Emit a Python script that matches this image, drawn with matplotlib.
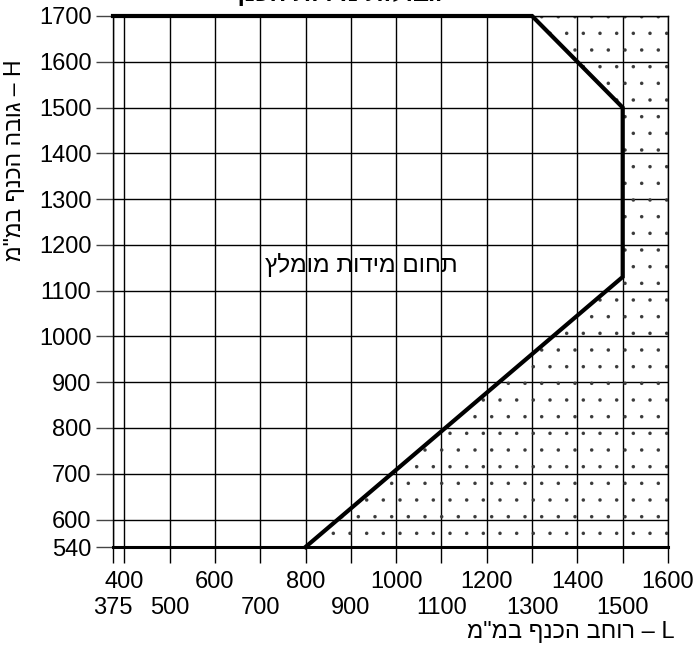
import matplotlib
matplotlib.use('Agg')
import matplotlib.pyplot as plt
from matplotlib.patches import Polygon

plt.rcParams['font.family'] = ['Liberation Sans', 'DejaVu Sans']
plt.rcParams['hatch.linewidth'] = 0.1

# ---- data ----
x_grid = [375, 400, 500, 600, 700, 800, 900, 1000, 1100, 1200, 1300, 1400, 1500, 1600]
x_labels_top = [400, 600, 800, 1000, 1200, 1400, 1600]
x_labels_bottom = [375, 500, 700, 900, 1100, 1300, 1500]
y_ticks = [540, 600, 700, 800, 900, 1000, 1100, 1200, 1300, 1400, 1500, 1600, 1700]
x_min, x_max = 375, 1600
y_min, y_max = 540, 1700

# recommended zone outline (L, H)
zone_L = [375, 1300, 1500, 1500, 800, 375]
zone_H = [1700, 1700, 1500, 1130, 540, 540]

x_title = 'L – רוחב הכנף במ"מ'
y_title = 'H – גובה הכנף במ"מ'
zone_text = 'תחום מידות מומלץ'
chart_title = 'גבולות מידות הכנף'


def vis(s):
    # matplotlib has no bidi support: show Hebrew in visual order
    return s[::-1]


fig = plt.figure(figsize=(6.95, 6.46), dpi=100)
ax = fig.add_axes([113 / 695, 1 - 547 / 646, (668 - 113) / 695, (547 - 16) / 646])
ax.set_xlim(x_min, x_max)
ax.set_ylim(y_min, y_max)

# hatched area outside the recommended zone
out_L = [zone_L[4], x_max, x_max, zone_L[1], zone_L[2], zone_L[3]]
out_H = [zone_H[4], y_min, y_max, zone_H[1], zone_H[2], zone_H[3]]
ax.add_patch(Polygon(list(zip(out_L, out_H)), closed=True, facecolor='none',
                     edgecolor='#3a3a3a', linewidth=0, hatch='.', zorder=1))

# zone outline
ax.plot(zone_L[:5], zone_H[:5], color='black', lw=3, solid_joinstyle='miter',
        clip_on=False, zorder=5)

# ticks / grid
ax.set_xticks(x_labels_top)
ax.set_xticklabels([str(v) for v in x_labels_top])
ax.set_xticks(x_labels_bottom, minor=True)
ax.set_xticklabels([str(v) for v in x_labels_bottom], minor=True)
ax.set_yticks(y_ticks)
ax.set_yticklabels([str(v) for v in y_ticks])

ax.tick_params(axis='x', which='major', length=11.3, width=1.0, pad=6,
               labelsize=17, color='black')
ax.tick_params(axis='x', which='minor', length=11.3, width=1.0, pad=25,
               labelsize=17, color='black')
ax.tick_params(axis='y', which='major', length=12, width=1.0, pad=3.5,
               labelsize=17, color='#444444')
ax.tick_params(axis='y', which='minor', left=False)

ax.grid(True, which='both', color='black', lw=1.0)
ax.set_axisbelow(True)

for side in ['left', 'right', 'top']:
    ax.spines[side].set_linewidth(1.0)
ax.spines['bottom'].set_linewidth(2.2)

# texts
ax.text(923, 1155, vis(zone_text), fontsize=17.5, ha='center', va='center', zorder=6)
fig.text(675 / 695, 1 - 632 / 646, vis(x_title), fontsize=17, ha='right', va='center')
fig.text(15 / 695, 1 - 160 / 646, vis(y_title), fontsize=16.5, rotation=90,
         ha='center', va='center')
fig.text(335 / 695, 1 - 1 / 646, vis(chart_title), fontsize=18, fontweight='bold',
         ha='center', va='baseline')

fig.savefig('out.png', dpi=100)
